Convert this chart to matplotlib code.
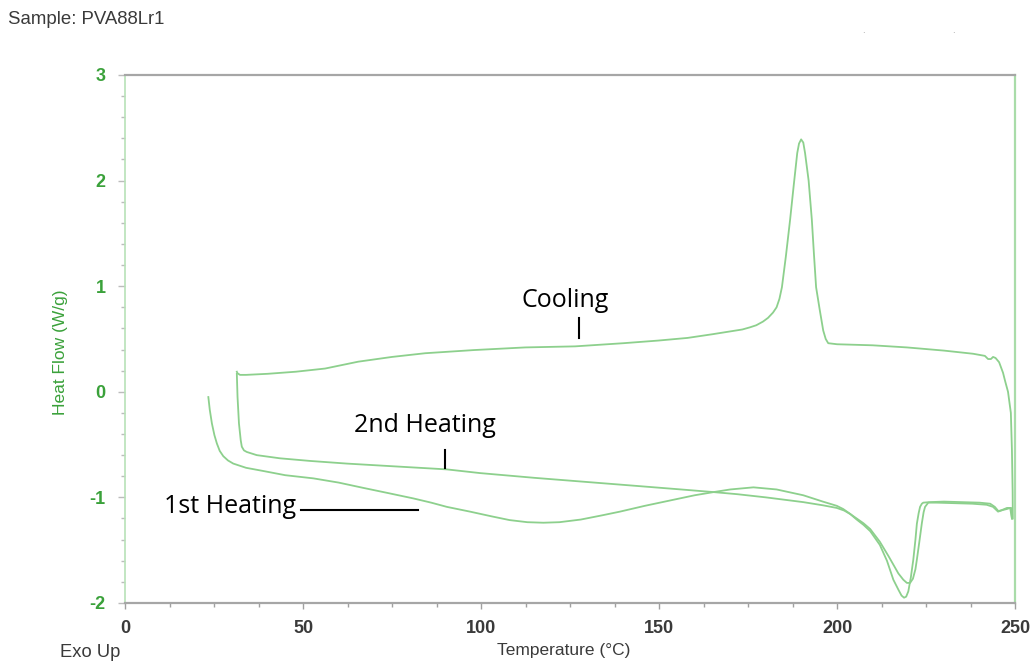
import matplotlib
matplotlib.use("Agg")
import matplotlib.pyplot as plt
from matplotlib.ticker import MultipleLocator

plt.rcParams["axes.unicode_minus"] = False

# 1st heating (T in degC, heat flow in W/g)
t_heat1 = [23.4, 23.8, 24.4, 25.1, 25.8, 26.6, 27.6, 28.9, 30.4, 34.0, 38.8, 45.0, 52.9,
           60.0, 66.9, 74.0, 81.0, 86.0, 90.4, 96.9, 103.0, 108.0, 113.0, 117.5, 122.0,
           128.0, 134.0, 139.0, 146.0, 153.0, 160.0, 165.3, 170.0, 176.5, 183.0, 190.5,
           196.0, 199.9, 201.7, 203.6, 205.5, 207.4, 209.3, 212.0, 214.0, 215.8, 217.3,
           218.1, 218.8, 219.4, 220.0, 220.7, 221.4, 222.0, 222.4, 222.9, 223.3, 223.8,
           224.2, 226.0, 230.0, 235.0, 240.0, 243.0, 244.3, 245.3, 246.3, 247.7, 248.9, 249.1]
hf_heat1 = [-0.05, -0.17, -0.30, -0.41, -0.49, -0.56, -0.61, -0.65, -0.68, -0.72, -0.75, -0.79, -0.82,
            -0.86, -0.91, -0.96, -1.01, -1.05, -1.09, -1.135, -1.18, -1.215, -1.235, -1.24, -1.235,
            -1.21, -1.17, -1.135, -1.08, -1.03, -0.98, -0.95, -0.925, -0.905, -0.925, -0.98,
            -1.04, -1.08, -1.11, -1.155, -1.21, -1.26, -1.32, -1.45, -1.60, -1.78, -1.88,
            -1.93, -1.95, -1.94, -1.89, -1.76, -1.59, -1.40, -1.25, -1.15, -1.09, -1.06,
            -1.05, -1.045, -1.04, -1.045, -1.05, -1.06, -1.09, -1.13, -1.12, -1.10, -1.10, -1.20]

# 2nd heating
t_heat2 = [31.4, 31.6, 32.0, 32.5, 32.8, 33.4, 34.2, 37.0, 43.5, 52.0, 62.3, 75.0, 90.4,
           99.7, 115.0, 130.0, 145.0, 158.0, 165.3, 172.0, 180.0, 190.5, 196.0, 199.9,
           202.0, 203.8, 205.5, 207.4, 209.3, 212.0, 214.5, 217.2, 218.6, 219.6, 220.5,
           221.3, 222.0, 222.4, 223.1, 223.8, 224.3, 224.7, 225.6, 228.0, 233.0, 238.0,
           242.0, 243.8, 245.2, 246.5, 247.7, 248.6, 249.1]
hf_heat2 = [0.17, -0.05, -0.30, -0.46, -0.52, -0.555, -0.57, -0.60, -0.63, -0.655, -0.68, -0.705, -0.735,
            -0.77, -0.815, -0.855, -0.895, -0.93, -0.95, -0.97, -1.00, -1.045, -1.075, -1.10,
            -1.125, -1.16, -1.20, -1.245, -1.30, -1.42, -1.56, -1.72, -1.78, -1.81, -1.81,
            -1.77, -1.68, -1.59, -1.42, -1.245, -1.14, -1.09, -1.05, -1.05, -1.055, -1.06,
            -1.07, -1.09, -1.135, -1.12, -1.11, -1.10, -1.20]

# cooling, from 250 degC down
t_cool = [249.35, 249.3, 249.1, 248.8, 248.0, 247.2, 246.6, 245.5, 244.5, 243.8, 243.2,
          242.4, 241.5, 238.2, 230.0, 219.6, 210.0, 200.0, 197.5, 196.8, 196.1, 195.1,
          194.1, 193.5, 192.9, 192.0, 191.0, 190.5, 189.9, 189.3, 188.8, 187.8, 186.8,
          185.6, 184.5, 183.8, 183.0, 182.0, 180.6, 179.2, 177.3, 175.5, 173.4, 165.0,
          158.0, 149.8, 140.0, 126.4, 112.4, 98.0, 84.3, 75.0, 65.5, 56.2, 48.0, 40.0,
          34.0, 32.3, 31.6, 31.4]
hf_cool = [-1.20, -0.95, -0.55, -0.20, 0.00, 0.10, 0.18, 0.28, 0.32, 0.33, 0.31,
           0.31, 0.34, 0.36, 0.39, 0.42, 0.44, 0.45, 0.46, 0.50, 0.58, 0.78,
           0.99, 1.30, 1.63, 2.00, 2.26, 2.36, 2.39, 2.35, 2.26, 1.95, 1.63,
           1.28, 0.99, 0.88, 0.80, 0.75, 0.70, 0.665, 0.63, 0.61, 0.59, 0.545,
           0.51, 0.485, 0.46, 0.43, 0.42, 0.395, 0.365, 0.33, 0.285, 0.22, 0.19, 0.17,
           0.16, 0.16, 0.175, 0.19]

line_color = "#8dd08d"
green = "#3aa13a"
gray_text = "#3a3a3a"

fig = plt.figure(figsize=(10.35, 6.64), dpi=100)
ax = fig.add_axes([0.1208, 0.0919, 0.86, 0.7952])

ax.plot(t_heat1, hf_heat1, color=line_color, lw=1.3)
ax.plot(t_heat2, hf_heat2, color=line_color, lw=1.3)
ax.plot(t_cool, hf_cool, color=line_color, lw=1.3)

ax.set_xlim(0, 250)
ax.set_ylim(-2, 3)
ax.xaxis.set_major_locator(MultipleLocator(50))
ax.xaxis.set_minor_locator(MultipleLocator(12.5))
ax.yaxis.set_major_locator(MultipleLocator(1))
ax.yaxis.set_minor_locator(MultipleLocator(0.2))

for side in ["top", "bottom"]:
    ax.spines[side].set_color("#a6a6a6")
    ax.spines[side].set_linewidth(1.6)
ax.spines["left"].set_color("#b8e2b8")
ax.spines["right"].set_color("#a9dca9")
ax.spines["left"].set_linewidth(1.2)
ax.spines["right"].set_linewidth(1.6)

ax.tick_params(axis="x", which="major", length=4, width=1, color="#a0a0a0", pad=8,
               labelsize=13, labelcolor=gray_text)
ax.tick_params(axis="x", which="minor", length=3, width=1, color="#a0a0a0")
ax.tick_params(axis="y", which="major", length=5, width=1, color="#bcbcbc", pad=9,
               labelsize=13, labelcolor=green)
ax.tick_params(axis="y", which="minor", length=3, width=1, color="#bcbcbc")
for lab in ax.get_xticklabels() + ax.get_yticklabels():
    lab.set_family("Liberation Sans")
    lab.set_fontweight("bold")

ax.set_xlabel("Temperature (°C)", family="Liberation Sans", fontsize=12.5, color=gray_text)
ax.xaxis.set_label_coords(0.493, -0.076)
ax.set_ylabel("Heat Flow (W/g)", family="Liberation Sans", fontsize=12.5, color=green)
ax.yaxis.set_label_coords(-0.064, 0.475)

fig.text(0.008, 0.97, "Sample: PVA88Lr1", family="Liberation Sans", fontsize=13.4,
         color=gray_text, va="center")
fig.text(0.058, 0.018, "Exo Up", family="Liberation Sans", fontsize=13.2,
         color=gray_text, va="center")
fig.text(0.833, 0.95, ".", fontsize=6, color="#909090")
fig.text(0.920, 0.95, ".", fontsize=6, color="#909090")

# annotations
note = dict(family="Open Sans", fontsize=18, color="black", ha="center", va="center")
ax.text(123.6, 0.86, "Cooling", **note)
ax.plot([127.5, 127.5], [0.70, 0.51], color="black", lw=1.5)
ax.text(84.3, -0.32, "2nd Heating", **note)
ax.plot([89.9, 89.9], [-0.55, -0.72], color="black", lw=1.5)
ax.text(29.5, -1.09, "1st Heating", **note)
ax.plot([49.5, 82.3], [-1.12, -1.12], color="black", lw=1.5)

fig.savefig("out.png", dpi=100, facecolor="white")
